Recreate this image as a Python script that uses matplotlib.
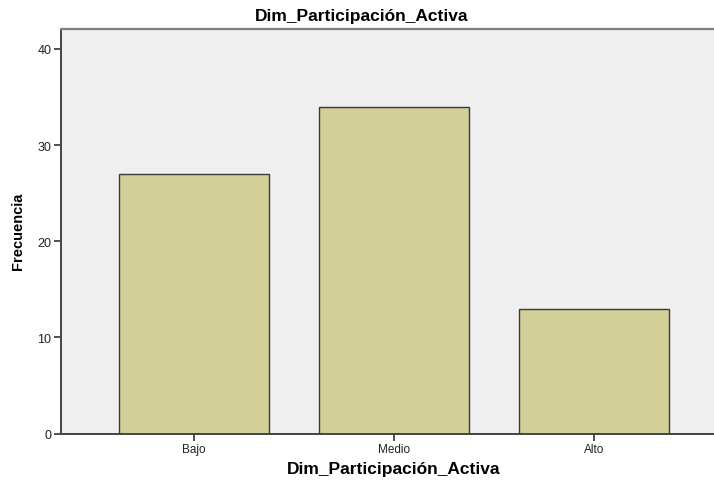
import matplotlib
matplotlib.use('Agg')
import matplotlib.pyplot as plt

plt.rcParams['font.family'] = ['Liberation Sans', 'DejaVu Sans']

categorias = ['Bajo', 'Medio', 'Alto']
frecuencia = [27, 34, 13]
y_ticks = [0, 10, 20, 30, 40]

fig = plt.figure(figsize=(7.14, 4.81), dpi=100)
ax = fig.add_axes([61 / 714, (481 - 434.5) / 481, (714 - 61) / 714, (434.5 - 30) / 481])
ax.set_facecolor('#efefef')

x = range(len(categorias))
ax.bar(x, frecuencia, width=0.75, color='#d3cf98', edgecolor='#3a3a3a', linewidth=1.0, zorder=2)

ax.set_xlim(-0.665, 2.6)
ax.set_ylim(0, 42.07)
ax.set_xticks(list(x))
ax.set_xticklabels(categorias, fontsize=8.5, color='#222222')
ax.set_yticks(y_ticks)
ax.set_yticklabels([str(t) for t in y_ticks], fontsize=9, color='#222222')
ax.tick_params(axis='both', length=5, width=1.2, color='#333333', pad=2)

for s in ['left', 'bottom']:
    ax.spines[s].set_color('#444444')
    ax.spines[s].set_linewidth(1.4)
ax.spines['top'].set_color('#808080')
ax.spines['top'].set_linewidth(1.6)
ax.spines['right'].set_visible(False)

fig.text(362 / 714, 1 - 17 / 481, 'Dim_Participación_Activa',
         ha='center', va='center', fontsize=12.5, fontweight='bold')
fig.text(394 / 714, 1 - 470 / 481, 'Dim_Participación_Activa',
         ha='center', va='center', fontsize=12.5, fontweight='bold')
fig.text(18 / 714, 1 - 231 / 481, 'Frecuencia', rotation=90,
         ha='center', va='center', fontsize=10.5, fontweight='bold')

fig.savefig('out.png', dpi=100)
